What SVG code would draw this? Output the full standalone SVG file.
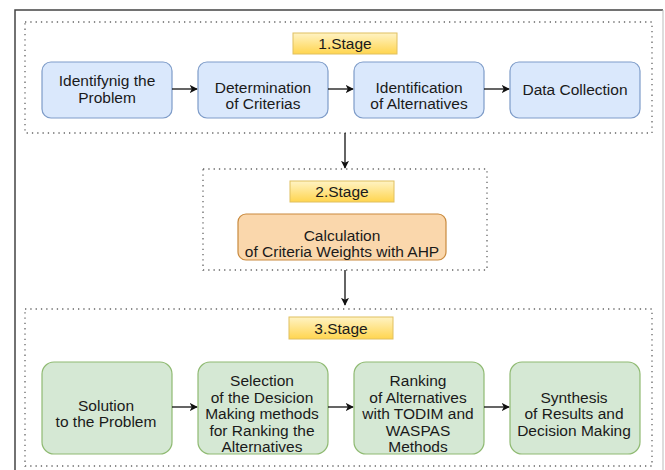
<svg xmlns="http://www.w3.org/2000/svg" width="665" height="470" viewBox="0 0 665 470">
  <defs>
    <linearGradient id="stageFill" x1="0" y1="0" x2="0" y2="1">
      <stop offset="0" stop-color="#fff3c4"/>
      <stop offset="1" stop-color="#ffd54f"/>
    </linearGradient>
    <marker id="arrow" viewBox="0 0 10 10" refX="9" refY="5" markerWidth="8" markerHeight="8" markerUnits="userSpaceOnUse" orient="auto">
      <path d="M0,0 L10,5 L0,10 L2.5,5 Z" fill="#111"/>
    </marker>
    <style>
      text { font-family: "Liberation Sans", Arial, sans-serif; font-size: 15.5px; fill: #1a1a1a; text-anchor: middle; }
      .frame { fill: none; stroke: #444; stroke-width: 1.5; }
      .group { fill: none; stroke: #666; stroke-width: 1.3; stroke-dasharray: 1.3 4; }
      .stage { fill: url(#stageFill); stroke: #e0c060; stroke-width: 1; }
      .blue { fill: #dae8fc; stroke: #7e9cc9; stroke-width: 1.2; }
      .orange { fill: #fad7ac; stroke: #c98a3e; stroke-width: 1.2; }
      .green { fill: #d5e8d4; stroke: #8fba72; stroke-width: 1.2; }
      .conn { fill: none; stroke: #111; stroke-width: 1.3; marker-end: url(#arrow); }
    </style>
  </defs>

  <rect width="665" height="470" fill="#ffffff"/>

  <!-- page frame -->
  <path class="frame" d="M15,470 V10 H663"/>
  <line x1="663" y1="10" x2="663" y2="470" stroke="#bbb" stroke-width="1"/>

  <!-- stage containers -->
  <rect class="group" x="25" y="22" width="627" height="111"/>
  <rect class="group" x="203" y="169" width="284" height="101"/>
  <rect class="group" x="25" y="309" width="627" height="157"/>

  <!-- stage titles -->
  <g id="stage1">
    <rect class="stage" x="293" y="33" width="104" height="21"/>
    <text x="345" y="49">1.Stage</text>
  </g>
  <g id="stage2">
    <rect class="stage" x="290" y="181" width="104" height="21"/>
    <text x="342" y="197">2.Stage</text>
  </g>
  <g id="stage3">
    <rect class="stage" x="289" y="317" width="104" height="22"/>
    <text x="341" y="333.5">3.Stage</text>
  </g>

  <!-- stage 1 steps -->
  <g id="identify-problem">
    <rect class="blue" x="42" y="62" width="130" height="56" rx="9"/>
    <text x="107" y="86">Identifynig the</text>
    <text x="107" y="102.5">Problem</text>
  </g>
  <g id="criteria">
    <rect class="blue" x="198" y="62" width="130" height="56" rx="9"/>
    <text x="263" y="93">Determination</text>
    <text x="263" y="109">of Criterias</text>
  </g>
  <g id="alternatives">
    <rect class="blue" x="354" y="62" width="130" height="56" rx="9"/>
    <text x="419" y="93">Identification</text>
    <text x="419" y="109">of Alternatives</text>
  </g>
  <g id="data-collection">
    <rect class="blue" x="510" y="62" width="130" height="56" rx="9"/>
    <text x="575" y="94.5">Data Collection</text>
  </g>

  <!-- stage 2 step -->
  <g id="ahp-weights">
    <rect class="orange" x="238" y="214" width="208" height="46" rx="8"/>
    <text x="342" y="241">Calculation</text>
    <text x="342" y="257">of Criteria Weights with AHP</text>
  </g>

  <!-- stage 3 steps -->
  <g id="solution">
    <rect class="green" x="42" y="362" width="130" height="92" rx="12"/>
    <text x="106" y="410.5">Solution</text>
    <text x="106" y="427">to the Problem</text>
  </g>
  <g id="method-selection">
    <rect class="green" x="198" y="362" width="130" height="92" rx="12"/>
    <text x="262" y="386">Selection</text>
    <text x="262" y="402.5">of the Desicion</text>
    <text x="262" y="419">Making methods</text>
    <text x="262" y="435.5">for Ranking the</text>
    <text x="262" y="452">Alternatives</text>
  </g>
  <g id="ranking">
    <rect class="green" x="354" y="362" width="130" height="92" rx="12"/>
    <text x="418" y="386">Ranking</text>
    <text x="418" y="402.5">of Alternatives</text>
    <text x="418" y="419">with TODIM and</text>
    <text x="418" y="435.5">WASPAS</text>
    <text x="418" y="452">Methods</text>
  </g>
  <g id="synthesis">
    <rect class="green" x="510" y="362" width="130" height="92" rx="12"/>
    <text x="574" y="402.5">Synthesis</text>
    <text x="574" y="419">of Results and</text>
    <text x="574" y="435.5">Decision Making</text>
  </g>

  <!-- connectors -->
  <g id="connectors">
    <line class="conn" x1="172" y1="89" x2="197" y2="89"/>
    <line class="conn" x1="328" y1="89" x2="353" y2="89"/>
    <line class="conn" x1="484" y1="89" x2="509" y2="89"/>
    <line class="conn" x1="345" y1="133" x2="345" y2="168"/>
    <line class="conn" x1="345" y1="270" x2="345" y2="305"/>
    <line class="conn" x1="172" y1="407" x2="197" y2="407"/>
    <line class="conn" x1="328" y1="407" x2="353" y2="407"/>
    <line class="conn" x1="484" y1="407" x2="509" y2="407"/>
  </g>
</svg>
